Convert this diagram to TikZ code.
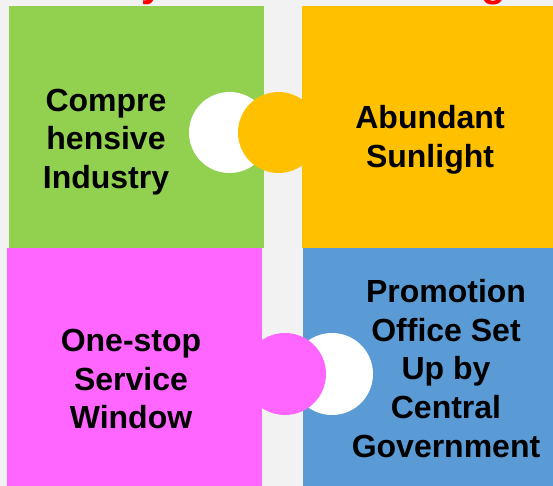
\documentclass[tikz,border=0pt]{standalone}
\usepackage{fontspec}
\setmainfont{Liberation Sans}
\usetikzlibrary{positioning}
\definecolor{bgGray}{HTML}{F2F2F2}
\definecolor{tileGreen}{HTML}{92D050}
\definecolor{tileOrange}{HTML}{FFC000}
\definecolor{tilePink}{HTML}{FF66FF}
\definecolor{tileBlue}{HTML}{5B9BD5}
\definecolor{titleRed}{HTML}{FF0000}
\begin{document}
\begin{tikzpicture}[x=1pt,y=-1pt,
    tiletext/.style={align=center,inner sep=0pt,font=\bfseries\fontsize{32}{38.6}\selectfont},
    titletext/.style={text=titleRed,inner sep=0pt,anchor=base,font=\bfseries\fontsize{40}{48}\selectfont}]
    \useasboundingbox (0,0) rectangle (553,486);
    \clip (0,0) rectangle (553,486);
    \fill[bgGray] (0,0) rectangle (553,486);
    % title, cut off at the top
    \node[titletext] (titleY) at (153,-3) {y};
    \node[titletext] (titleG) at (494,-3) {g};
    % the four tiles
    \fill[tileGreen] (9,6) rectangle (264,248);
    \fill[tileOrange] (302,6) rectangle (553,248);
    \fill[tilePink] (7,248) rectangle (262,486);
    \fill[tileBlue] (303,248) rectangle (553,486);
    % puzzle tabs
    \fill[white] (229.5,132.5) circle (40.5);
    \fill[tileOrange] (278.5,132.5) circle (40.5);
    \fill[white] (332,374) circle (41);
    \fill[tilePink] (285,374) circle (41);
    % labels
    \node[tiletext] (industry) at (106,142) {Compre\\hensive\\Industry};
    \node[tiletext] (sunlight) at (430,140) {Abundant\\Sunlight};
    \node[tiletext] (window) at (131,379) {One-stop\\Service\\Window};
    \node[tiletext] (office) at (446,368.5) {Promotion\\Office Set\\Up by\\Central\\Government};
\end{tikzpicture}
\end{document}
